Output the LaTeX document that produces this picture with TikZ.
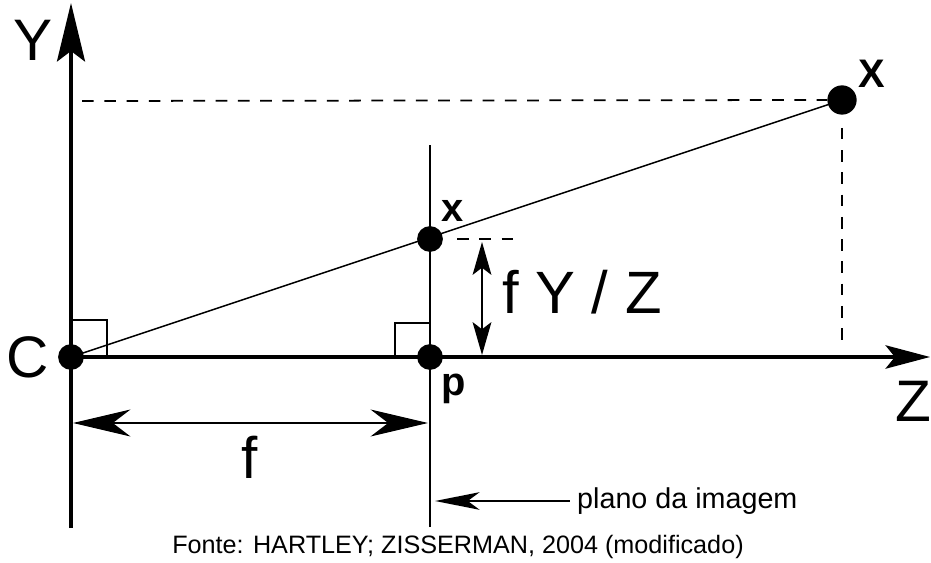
\documentclass[tikz,border=0pt]{standalone}
\usepackage{fontspec}
\setmainfont{Liberation Sans}
\usetikzlibrary{arrows.meta}
\tikzset{
  dot/.style={circle,fill=black,inner sep=0pt,minimum size=22pt},
  axis/.style={line width=2.6pt},
  thinline/.style={line width=1.25pt},
  dashline/.style={line width=1.5pt,dash pattern=on 10pt off 9pt},
  anglebox/.style={line width=1.6pt},
  biglabel/.style={inner sep=0pt,font=\fontsize{50}{50}\selectfont},
  ptlabel/.style={inner sep=0pt,font=\bfseries\fontsize{34}{34}\selectfont},
  smalllabel/.style={inner sep=0pt,font=\fontsize{21.5}{21.5}\selectfont},
}

\begin{document}
\begin{tikzpicture}[x=0.03cm,y=0.03cm]
\path[use as bounding box] (0,0) rectangle (931,562);
\coordinate (Ybot) at (71,34);
\coordinate (Ytop) at (71,559);
\coordinate (Zend) at (930,205);
\coordinate (ptop) at (430,417);
\coordinate (pbot) at (430,35);
\coordinate (hd) at (82,461);
\coordinate (vd) at (842,215);
\coordinate (xd) at (513,323);
\coordinate (fa1) at (482,320);
\coordinate (fa2) at (482,207);
\coordinate (f1) at (73,139);
\coordinate (f2) at (428,139);
\coordinate (pl) at (435,61);
\node[dot] (C) at (71,205) {};
\node[dot] (p) at (430,205) {};
\node[dot] (xi) at (430,323) {};
\node[dot,minimum size=25pt] (X) at (842,462) {};
\draw[axis,-{Stealth[length=50pt,width=24pt,inset=9pt]}] (Ybot) -- (Ytop);
\draw[axis,-{Stealth[length=38pt,width=20pt,inset=8pt]}] (C.center) -- (Zend);
\draw[line width=1.8pt] (pbot) -- (ptop);
\draw[thinline] (C.center) -- (X.center);
\draw[dashline] (hd) -- (X.west);
\draw[dashline,shorten <=11pt] (X.south) -- (vd);
\draw[dashline,shorten <=12pt] (xi.east) -- (xd);
\draw[anglebox] (C.center) ++(0,37) -- ++(36,0) -- ++(0,-37);
\draw[anglebox] (p.center) ++(0,34) -- ++(-35,0) -- ++(0,-34);
\draw[line width=1.5pt,{Stealth[length=28pt,width=16pt,inset=6pt]}-{Stealth[length=28pt,width=16pt,inset=6pt]}] (fa1) -- (fa2);
\draw[line width=1.6pt,{Stealth[length=49pt,width=23pt,inset=15pt]}-{Stealth[length=49pt,width=23pt,inset=15pt]}] (f1) -- (f2);
\node[biglabel] (Ylab) at (33,522) {Y};
\node[biglabel] (Clab) at (28,205) {C};
\node[biglabel] (Zlab) at (913,161) {Z};
\node[biglabel] (flab) at (250,105) {f};
\node[biglabel,font=\fontsize{51}{51}\selectfont] (fyz) at (582,270) {f Y / Z};
\node[ptlabel] (xlab) at (453,351) {x};
\node[ptlabel] (plab) at (454,173) {p};
\node[ptlabel] (Xlab) at (872,488) {X};
\node[smalllabel,font=\fontsize{24.5}{24.5}\selectfont,anchor=west] (plano) at (577,61) {plano da imagem};
\draw[thinline,-{Stealth[length=38pt,width=15pt,inset=10pt]},shorten <=6pt] (plano.west) -- (pl);
\node[smalllabel] (fonte) at (458,15) {Fonte: HARTLEY; ZISSERMAN, 2004 (modificado)};
\end{tikzpicture}
\end{document}
